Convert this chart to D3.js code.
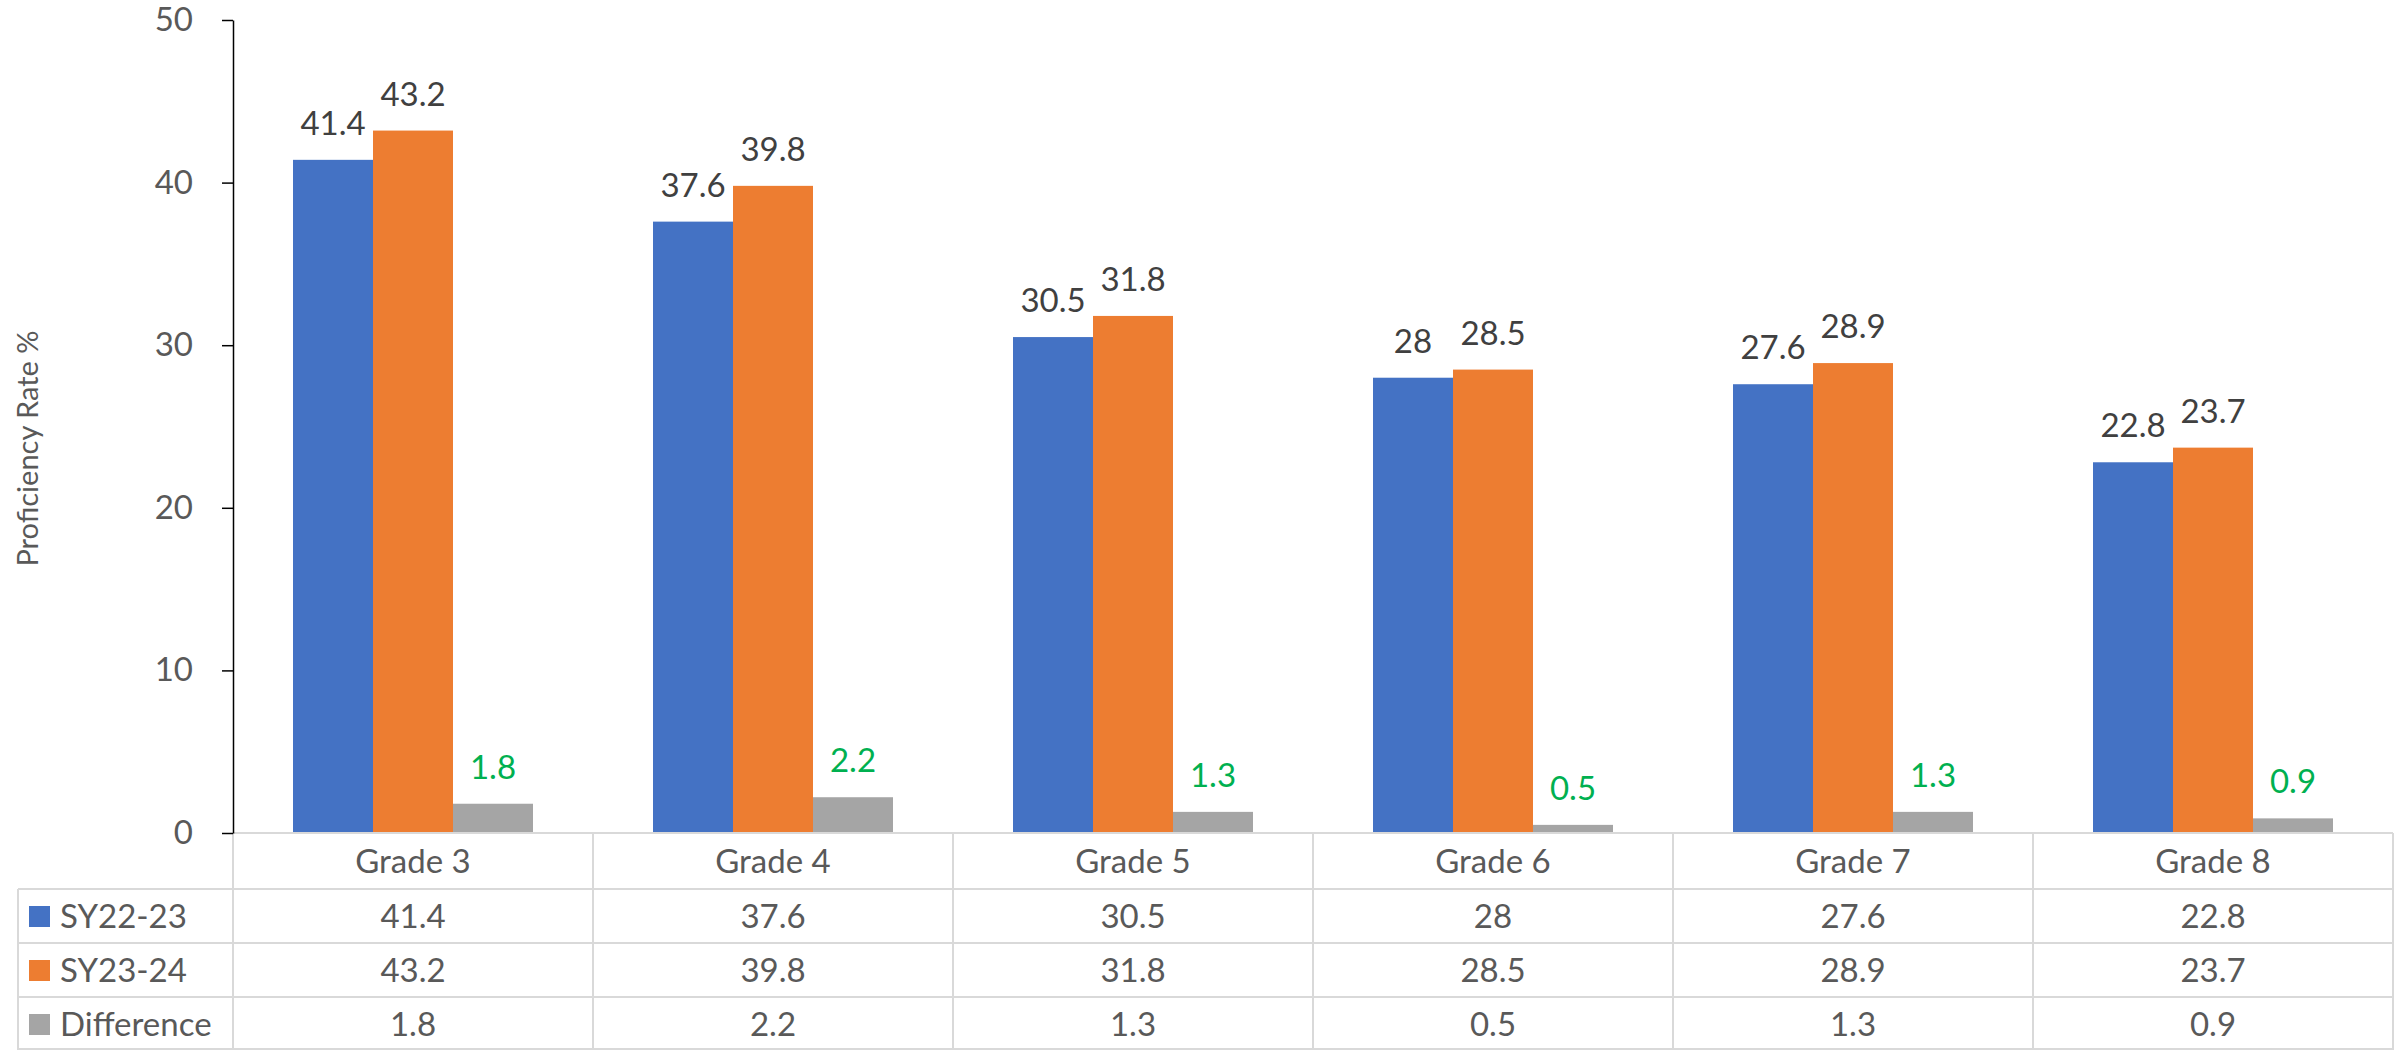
<!DOCTYPE html>
<html>
<head>
<meta charset="utf-8">
<script src="https://cdn.jsdelivr.net/npm/d3@7"></script>
<style>
  body { margin: 0; background: #fff; }
  text { font-family: Lato, "Open Sans", sans-serif; }
</style>
</head>
<body>
<div id="chart"></div>
<script>
// data
const grades = ["Grade 3", "Grade 4", "Grade 5", "Grade 6", "Grade 7", "Grade 8"];
const seriesNames = ["SY22-23", "SY23-24", "Difference"];
const sy2223 = [41.4, 37.6, 30.5, 28, 27.6, 22.8];
const sy2324 = [43.2, 39.8, 31.8, 28.5, 28.9, 23.7];
const difference = [1.8, 2.2, 1.3, 0.5, 1.3, 0.9];
const yTicks = [0, 10, 20, 30, 40, 50];

const colors = ["#4472C4", "#ED7D31", "#A5A5A5"];
const labelColors = ["#404040", "#404040", "#00B050"];
const seriesValues = [sy2223, sy2324, difference];

const width = 2405, height = 1050;
const plot = { left: 233, right: 2393, top: 20, bottom: 833 };
const tableLeft = 18, headerH = 56, rowH = 54;

const svg = d3.select("#chart").append("svg")
    .attr("width", width)
    .attr("height", height);

// scales
const x = d3.scaleBand()
    .domain(grades)
    .range([plot.left, plot.right])
    .paddingInner(0).paddingOuter(0);

const x1 = d3.scaleBand()
    .domain(seriesNames)
    .range([0, x.bandwidth()])
    .paddingInner(0)
    .paddingOuter(0.75);

const y = d3.scaleLinear()
    .domain([0, 50])
    .range([plot.bottom, plot.top]);

// bars
const rows = grades.map((g, i) => ({
    grade: g,
    values: seriesNames.map((s, j) => ({ series: s, j: j, value: seriesValues[j][i] }))
}));

const groups = svg.append("g")
    .selectAll("g")
    .data(rows)
    .join("g")
    .attr("transform", d => `translate(${x(d.grade)},0)`);

groups.selectAll("rect")
    .data(d => d.values)
    .join("rect")
    .attr("x", d => x1(d.series))
    .attr("y", d => y(d.value))
    .attr("width", x1.bandwidth())
    .attr("height", d => y(0) - y(d.value))
    .attr("fill", d => colors[d.j]);

// data labels
groups.selectAll("text")
    .data(d => d.values)
    .join("text")
    .attr("x", d => x1(d.series) + x1.bandwidth() / 2)
    .attr("y", d => y(d.value) - 25)
    .attr("text-anchor", "middle")
    .attr("font-size", 33)
    .attr("fill", d => labelColors[d.j])
    .text(d => d.value);

// y axis
const yAxis = svg.append("g")
    .attr("transform", `translate(${plot.left},0)`)
    .call(d3.axisLeft(y).tickValues(yTicks).tickSize(11).tickPadding(29).tickSizeOuter(0));
yAxis.select(".domain").attr("stroke", "#000").attr("stroke-width", 1.5);
yAxis.selectAll(".tick line").attr("stroke", "#000").attr("stroke-width", 1.5);
yAxis.selectAll(".tick text")
    .attr("font-size", 33)
    .attr("fill", "#595959")
    .style("font-family", "Lato, 'Open Sans', sans-serif");

// axis title
svg.append("text")
    .attr("transform", `translate(28,${(plot.top + plot.bottom) / 2 + 22}) rotate(-90)`)
    .attr("text-anchor", "middle")
    .attr("dy", "0.35em")
    .attr("font-size", 29)
    .attr("fill", "#595959")
    .text("Proficiency Rate %");

// data table
const grid = svg.append("g").attr("stroke", "#D9D9D9").attr("stroke-width", 2);
const tableTop = plot.bottom;
const firstRow = tableTop + headerH;
const tableBottom = firstRow + rowH * seriesNames.length;

// horizontal lines
grid.append("line")
    .attr("x1", plot.left).attr("x2", plot.right)
    .attr("y1", tableTop).attr("y2", tableTop);
d3.range(seriesNames.length + 1).forEach(i => {
    const yy = Math.min(firstRow + i * rowH, height - 1);
    grid.append("line")
        .attr("x1", tableLeft).attr("x2", plot.right)
        .attr("y1", yy).attr("y2", yy);
});

// vertical lines
const colEdges = grades.map(g => x(g)).concat([plot.right]);
grid.selectAll(".col")
    .data(colEdges)
    .join("line")
    .attr("x1", d => d).attr("x2", d => d)
    .attr("y1", tableTop).attr("y2", tableBottom);
grid.append("line")
    .attr("x1", tableLeft).attr("x2", tableLeft)
    .attr("y1", firstRow).attr("y2", tableBottom);

// redraw y axis over the grid top so its zero tick stays black
svg.node().appendChild(yAxis.node());

// header row
svg.append("g")
    .selectAll("text")
    .data(grades)
    .join("text")
    .attr("x", d => x(d) + x.bandwidth() / 2)
    .attr("y", tableTop + headerH / 2)
    .attr("dy", "0.35em")
    .attr("text-anchor", "middle")
    .attr("font-size", 33)
    .attr("fill", "#595959")
    .text(d => d);

// legend keys + series names
seriesNames.forEach((s, j) => {
    const cy = firstRow + j * rowH + rowH / 2;
    svg.append("rect")
        .attr("x", 29).attr("y", cy - 10)
        .attr("width", 21).attr("height", 21)
        .attr("fill", colors[j]);
    svg.append("text")
        .attr("x", 60).attr("y", cy)
        .attr("dy", "0.35em")
        .attr("font-size", 33)
        .attr("fill", "#595959")
        .text(s);
    svg.append("g")
        .selectAll("text")
        .data(grades)
        .join("text")
        .attr("x", d => x(d) + x.bandwidth() / 2)
        .attr("y", cy)
        .attr("dy", "0.35em")
        .attr("text-anchor", "middle")
        .attr("font-size", 33)
        .attr("fill", "#595959")
        .text((d, i) => seriesValues[j][i]);
});
</script>
</body>
</html>
